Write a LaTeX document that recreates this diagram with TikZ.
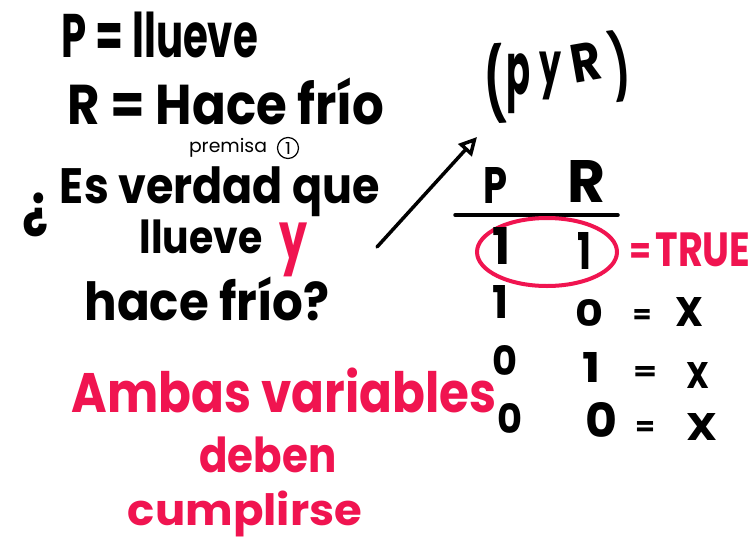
\documentclass[tikz,border=0pt]{standalone}
\usepackage{fontspec}
\setmainfont{Poppins}
\usepackage{graphicx}
\usetikzlibrary{arrows.meta,shapes.geometric}
\definecolor{inkred}{RGB}{240,20,80}
\newcommand{\fitbox}[3]{\resizebox*{#1pt}{#2pt}{#3}}
\tikzset{
  hw/.style={inner sep=0pt, font=\bfseries, text=black},
  hwr/.style={hw, text=inkred},
  hwm/.style={inner sep=0pt, font=\mdseries, text=black},
  rule/.style={line width=3.5pt, line cap=round},
}
\begin{document}
\begin{tikzpicture}[x=1pt,y=-1pt]
\useasboundingbox[fill=white] (0,0) rectangle (752,557);
% left definitions
\node[hw] (defp) at (160,35) {\fitbox{196}{46}{P = llueve}};
\node[hw] (defr) at (226,101) {\fitbox{317}{47}{R = Hace frío}};
\node[hwm] (prem) at (228,148) {\fitbox{78}{19}{premisa}};
\node[draw, circle, line width=1.2pt, inner sep=0pt, minimum size=21pt] (c1) at (288,148) {\fitbox{6}{12}{1}};
\node[hw] (qopen) at (36,215) {\fitbox{26}{44}{¿}};
\node[hw] (q1) at (220,192) {\fitbox{320}{50}{Es verdad que}};
\node[hw] (q2) at (201,237) {\fitbox{123}{34}{llueve}};
\node[hwr] (yy) at (294,250) {\fitbox{28}{54}{y}};
\node[hw] (q3) at (207,299) {\fitbox{245}{44}{hace frío?}};
% red conclusion
\node[hwr] (amb) at (284,390) {\fitbox{425}{45}{Ambas variables}};
\node[hwr] (deb) at (268,455) {\fitbox{137}{36}{deben}};
\node[hwr] (cum) at (245,514) {\fitbox{234}{46}{cumplirse}};
% (pyR)
\node[hw, rotate=4] (lp) at (495,84) {\fitbox{20}{80}{(}};
\node[hw] (pp) at (518,84) {\fitbox{24}{60}{p}};
\node[hw] (py) at (550,76) {\fitbox{22}{48}{y}};
\node[hw, rotate=10] (pr) at (586,62) {\fitbox{30}{38}{R}};
\node[hw, rotate=8] (rp) at (620,66) {\fitbox{18}{72}{)}};
% arrow
\coordinate (atail) at (377,247);
\coordinate (ahead) at (477,137);
\draw[line width=3.5pt, line cap=round, -{Triangle[open, length=18pt, width=18pt, line width=3.5pt]}] (atail) -- (ahead);
% table
\node[hw] (hp) at (495,185) {\fitbox{24}{36}{P}};
\node[hw] (hr) at (586,181) {\fitbox{38}{42}{R}};
\coordinate (l1) at (455,215);
\coordinate (l2) at (618,215);
\draw[rule] (l1) -- (l2);
\node[draw=inkred, ellipse, line width=4pt, minimum width=140pt, minimum height=68pt] (hl) at (547,252) {};
\node[hw] (a1) at (501,246) {\fitbox{18}{37}{1}};
\node[hw] (b1) at (584,251) {\fitbox{14}{37}{1}};
\node[hwr] (e1) at (640,253) {\fitbox{22}{20}{=}};
\node[hwr] (t1) at (703,250) {\fitbox{95}{34}{TRUE}};
\node[hw] (a2) at (500,302) {\fitbox{16}{33}{1}};
\node[hw] (b2) at (589,313) {\fitbox{28}{27}{0}};
\node[hw] (e2) at (642,316) {\fitbox{19}{14}{=}};
\node[hw] (x2) at (689,312) {\fitbox{28}{29}{X}};
\node[hw] (a3) at (505,360) {\fitbox{25}{30}{0}};
\node[hw] (b3) at (591,367) {\fitbox{18}{30}{1}};
\node[hw] (e3) at (645,373) {\fitbox{24}{14}{=}};
\node[hw] (x3) at (698,375) {\fitbox{23}{26}{X}};
\node[hw] (a4) at (510,418) {\fitbox{25}{30}{0}};
\node[hw] (b4) at (601,420) {\fitbox{32}{35}{0}};
\node[hw] (e4) at (645,428) {\fitbox{20}{14}{=}};
\node[hw] (x4) at (702,427) {\fitbox{31}{27}{X}};
\end{tikzpicture}
\end{document}
